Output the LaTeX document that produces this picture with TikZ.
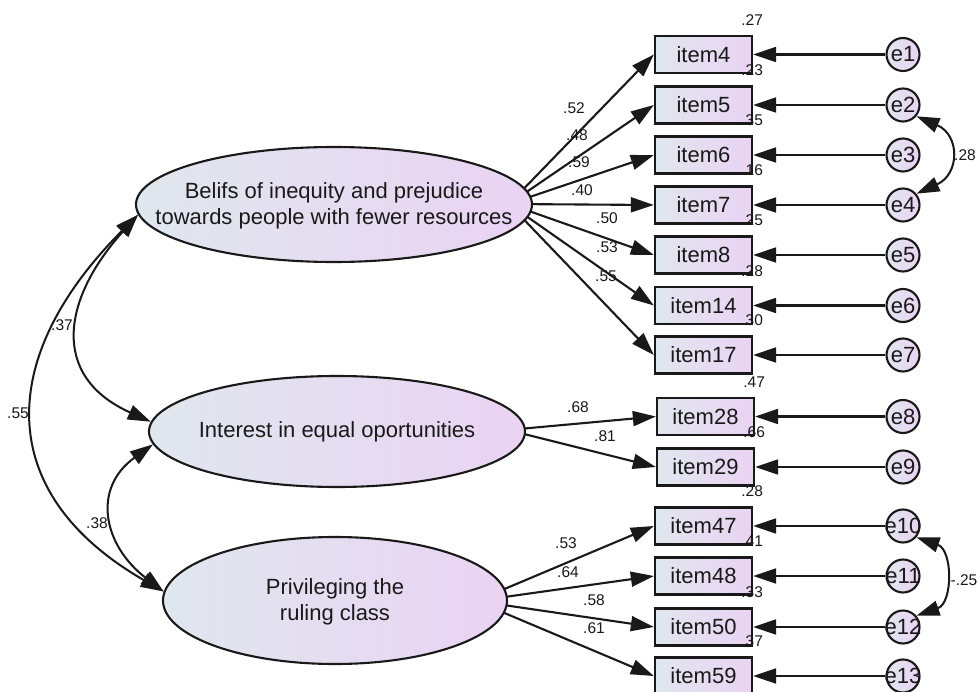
\documentclass[tikz,border=0pt]{standalone}
\usepackage{fontspec}
\setmainfont{Liberation Sans}
\usetikzlibrary{arrows.meta,shapes.geometric,backgrounds,calc}
\definecolor{colL}{RGB}{224,231,238}
\definecolor{colR}{RGB}{234,211,243}
\definecolor{ink}{RGB}{25,25,25}
\begin{document}
\begin{tikzpicture}[x=1pt,y=-1pt,
  font=\fontsize{22}{26.5}\selectfont,
  latent/.style={ellipse, draw=ink, line width=2.1pt, left color=colL, right color=colR, inner sep=0pt},
  ltext/.style={align=center, text=ink, inner sep=0pt},
  obs/.style={rectangle, draw=ink, line width=2.3pt, left color=colL, right color=colR, minimum width=97pt, minimum height=37pt, inner sep=0pt, text=ink},
  err/.style={circle, draw=ink, line width=2.1pt, left color=colL, right color=colR, minimum size=33pt, inner sep=0pt, text=ink},
  lbl/.style={font=\fontsize{15.5}{18}\selectfont, text=ink, inner sep=0pt},
  tipA/.tip={Triangle[length=23pt,width=15pt]},
  load/.style={line width=2.1pt, draw=ink, -tipA},
  cov/.style={line width=2pt, draw=ink, tipA-tipA},
]
\useasboundingbox (0,0) rectangle (979,692);

% latent variables
\node[latent, minimum width=396pt, minimum height=115pt] (belifs) at (334,204.5) {};
\node[ltext] (belifsT) at (334,206) {Belifs of inequity and prejudice\\towards people with fewer resources};
\node[latent, minimum width=376pt, minimum height=111pt] (interest) at (337,431.5) {};
\node[ltext] (interestT) at (337,432) {Interest in equal oportunities};
\node[latent, minimum width=344pt, minimum height=127pt] (priv) at (335,600.5) {};
\node[ltext] (privT) at (335,602) {Privileging the\\ruling class};

% observed variables
\node[obs] (item4)  at (703.5,54.5) {item4};
\node[obs] (item5)  at (703.5,105)  {item5};
\node[obs] (item6)  at (703.5,155)  {item6};
\node[obs] (item7)  at (703.5,205)  {item7};
\node[obs] (item8)  at (703.5,255)  {item8};
\node[obs] (item14) at (703.5,305.5){item14};
\node[obs] (item17) at (703.5,355)  {item17};
\node[obs] (item28) at (705.5,416.5){item28};
\node[obs] (item29) at (705.5,467)  {item29};
\node[obs] (item47) at (703.5,526)  {item47};
\node[obs] (item48) at (703.5,576)  {item48};
\node[obs] (item50) at (703.5,627)  {item50};
\node[obs] (item59) at (703.5,676)  {item59};

% errors
\node[err] (e1)  at (903,54.5)  {\makebox[0pt]{e1}};
\node[err] (e2)  at (903,105)   {\makebox[0pt]{e2}};
\node[err] (e3)  at (903,155)   {\makebox[0pt]{e3}};
\node[err] (e4)  at (903,205)   {\makebox[0pt]{e4}};
\node[err] (e5)  at (903,255)   {\makebox[0pt]{e5}};
\node[err] (e6)  at (903,305.5) {\makebox[0pt]{e6}};
\node[err] (e7)  at (903,355)   {\makebox[0pt]{e7}};
\node[err] (e8)  at (903,416.5) {\makebox[0pt]{e8}};
\node[err] (e9)  at (903,467)   {\makebox[0pt]{e9}};
\node[err] (e10) at (903,526)   {\makebox[0pt]{e10}};
\node[err] (e11) at (903,576)   {\makebox[0pt]{e11}};
\node[err] (e12) at (903,627)   {\makebox[0pt]{e12}};
\node[err] (e13) at (903,676)   {\makebox[0pt]{e13}};

% sources of loadings (hidden under ellipses)
\coordinate (bsrc) at (509,204);
\coordinate (isrc) at (508,430);
\coordinate (psrc) at (476,601);

\begin{pgfonlayer}{background}
\foreach \t in {item4,item5,item6,item7,item8,item14,item17}
  \draw[load] (bsrc) -- (\t.west);
\foreach \t in {item28,item29}
  \draw[load] (isrc) -- (\t.west);
\foreach \t in {item47,item48,item50,item59}
  \draw[load] (psrc) -- (\t.west);
\end{pgfonlayer}

% error arrows
\foreach \e/\t in {e1/item4,e2/item5,e3/item6,e4/item7,e5/item8,e6/item14,e7/item17,e8/item28,e9/item29,e10/item47,e11/item48,e12/item50,e13/item59}
  \draw[load] (\e) -- (\t);

% covariances
\draw[cov] (belifs.183) .. controls (63,298) and (49,376) .. (interest.177);
\draw[cov] (belifs.183) .. controls (-2,355) and (-9,492) .. (priv.177);
\draw[cov] (interest.184) .. controls (91,489) and (104,546) .. (priv.177);
\draw[cov] (e2.-40) .. controls (960,135) and (960,174) .. (e4.40);
\draw[cov] (e10.-40) .. controls (953,550) and (953,603) .. (e12.40);

% covariance labels
\node[lbl] (c37) at (62,325) {.37};
\node[lbl] (c55) at (18,413) {.55};
\node[lbl] (c38) at (97,523) {.38};
\node[lbl] (c28) at (965,155) {.28};
\node[lbl] (c25) at (964,580) {-.25};

% loading labels
\node[lbl] at (574,108) {.52};
\node[lbl] at (577,135) {.48};
\node[lbl] at (579,162) {.59};
\node[lbl] at (582,190) {.40};
\node[lbl] at (607,218) {.50};
\node[lbl] at (607,247) {.53};
\node[lbl] at (606,276) {.55};
\node[lbl] at (578,407) {.68};
\node[lbl] at (605,436) {.81};
\node[lbl] at (566,543) {.53};
\node[lbl] at (568,572) {.64};
\node[lbl] at (594,600) {.58};
\node[lbl] at (594,628) {.61};

% squared multiple correlations
\foreach \t/\v in {item4/.27,item5/.23,item6/.35,item7/.16,item8/.25,item14/.28,item17/.30,item28/.47,item29/.66,item47/.28,item48/.41,item50/.33,item59/.37}
  \node[lbl] at ($(\t.north east)+(-1,-15)$) {\v};
\end{tikzpicture}
\end{document}
